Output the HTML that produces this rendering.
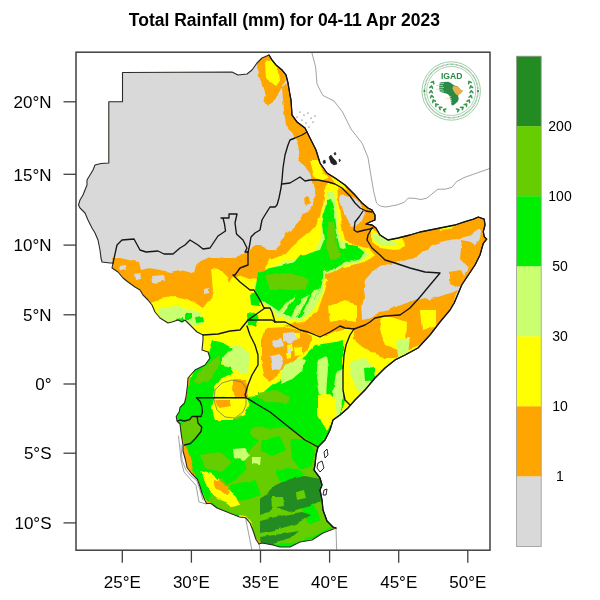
<!DOCTYPE html>
<html><head><meta charset="utf-8"><style>
html,body{margin:0;padding:0;background:#fff;width:600px;height:600px;overflow:hidden}
svg{display:block;will-change:transform}
.lab{font-family:"Liberation Sans",sans-serif;font-size:17px;fill:#000}
.cb{font-family:"Liberation Sans",sans-serif;font-size:14px;fill:#000}
.ttl{font-family:"Liberation Sans",sans-serif;font-size:17.5px;font-weight:bold;fill:#000}
</style></head><body>
<svg width="600" height="600" viewBox="0 0 600 600">
<rect width="600" height="600" fill="#fff"/>
<text x="284.4" y="25.8" text-anchor="middle" class="ttl">Total Rainfall (mm) for 04-11 Apr 2023</text>
<defs><filter id="rag" x="-5%" y="-5%" width="110%" height="110%"><feTurbulence type="fractalNoise" baseFrequency="0.09" numOctaves="2" seed="3"/><feDisplacementMap in="SourceGraphic" scale="4" xChannelSelector="R" yChannelSelector="G"/></filter><clipPath id="fr"><rect x="76" y="52.2" width="414" height="498"/></clipPath><clipPath id="land"><polygon points="122.5,72.5 232.0,72.0 238.0,75.0 247.0,74.0 252.0,70.0 257.0,63.0 262.0,58.0 269.0,55.0 272.0,60.0 276.0,65.0 282.0,70.0 286.0,75.0 288.0,83.0 290.0,95.0 291.0,100.0 292.0,115.0 297.0,122.0 305.0,128.0 311.0,140.0 316.0,150.0 320.0,163.0 327.0,173.0 335.0,178.0 345.0,185.0 355.0,195.0 362.0,203.0 368.0,208.0 372.0,210.0 375.0,215.0 375.0,220.0 370.0,222.0 366.0,224.0 372.0,225.0 376.0,228.0 380.0,235.0 388.0,240.0 398.0,238.0 410.0,235.0 420.0,232.0 430.0,230.0 440.0,228.0 455.0,225.0 465.0,221.7 473.3,219.2 478.3,217.0 484.2,219.2 485.0,225.0 483.3,231.7 484.2,236.7 486.7,239.2 483.3,243.3 480.0,255.0 475.0,265.0 468.3,275.0 461.7,285.0 458.3,293.3 454.2,303.0 450.0,310.0 440.0,322.0 430.0,335.0 418.0,348.0 405.0,355.0 395.0,360.0 385.0,368.0 375.0,378.0 365.0,390.0 355.0,400.0 348.0,408.0 340.0,415.0 333.0,420.0 330.0,430.0 325.0,440.0 318.0,447.0 316.0,455.0 315.0,465.0 314.0,470.0 320.0,478.0 322.0,485.0 320.0,490.0 322.0,500.0 323.0,510.0 327.0,521.0 333.0,527.0 336.0,528.0 323.0,533.0 312.0,540.0 300.0,542.0 290.0,547.0 280.0,547.0 273.0,545.0 262.0,543.0 259.0,544.0 256.0,539.5 253.0,530.5 250.0,523.0 245.5,517.7 239.5,517.0 232.0,514.0 224.5,511.0 217.0,508.0 211.0,503.5 206.5,503.5 205.0,500.5 202.0,493.0 199.7,485.5 197.5,479.5 191.5,473.5 187.0,467.5 185.5,460.0 183.0,451.0 183.0,445.0 181.5,436.0 180.7,430.0 180.0,424.0 177.0,421.0 176.2,416.5 179.2,412.0 180.0,407.5 184.5,403.0 186.0,397.0 187.5,385.0 188.0,378.0 195.0,370.0 205.0,365.0 210.0,358.0 208.0,352.0 202.0,350.0 203.0,340.0 203.0,335.0 197.0,332.0 190.0,325.0 185.0,320.0 182.0,322.0 178.0,320.0 172.0,322.0 168.0,323.0 160.0,318.0 155.0,312.0 152.0,305.0 148.0,300.0 143.0,295.0 140.0,290.0 135.0,287.0 128.0,282.0 123.0,278.0 118.0,272.0 112.0,268.0 113.0,263.0 110.0,263.0 102.0,262.0 101.0,258.0 100.0,250.0 98.0,240.0 95.0,233.0 92.0,228.0 88.0,220.0 85.0,213.0 80.0,208.0 78.5,205.0 80.0,200.0 83.0,195.0 85.0,190.0 87.0,185.0 87.0,180.0 90.0,175.0 93.0,170.0 95.0,165.0 101.0,163.5 108.8,163.0 108.8,101.8 122.5,101.8"/></clipPath></defs>
<g clip-path="url(#fr)">
<polygon points="122.5,72.5 232.0,72.0 238.0,75.0 247.0,74.0 252.0,70.0 257.0,63.0 262.0,58.0 269.0,55.0 272.0,60.0 276.0,65.0 282.0,70.0 286.0,75.0 288.0,83.0 290.0,95.0 291.0,100.0 292.0,115.0 297.0,122.0 305.0,128.0 311.0,140.0 316.0,150.0 320.0,163.0 327.0,173.0 335.0,178.0 345.0,185.0 355.0,195.0 362.0,203.0 368.0,208.0 372.0,210.0 375.0,215.0 375.0,220.0 370.0,222.0 366.0,224.0 372.0,225.0 376.0,228.0 380.0,235.0 388.0,240.0 398.0,238.0 410.0,235.0 420.0,232.0 430.0,230.0 440.0,228.0 455.0,225.0 465.0,221.7 473.3,219.2 478.3,217.0 484.2,219.2 485.0,225.0 483.3,231.7 484.2,236.7 486.7,239.2 483.3,243.3 480.0,255.0 475.0,265.0 468.3,275.0 461.7,285.0 458.3,293.3 454.2,303.0 450.0,310.0 440.0,322.0 430.0,335.0 418.0,348.0 405.0,355.0 395.0,360.0 385.0,368.0 375.0,378.0 365.0,390.0 355.0,400.0 348.0,408.0 340.0,415.0 333.0,420.0 330.0,430.0 325.0,440.0 318.0,447.0 316.0,455.0 315.0,465.0 314.0,470.0 320.0,478.0 322.0,485.0 320.0,490.0 322.0,500.0 323.0,510.0 327.0,521.0 333.0,527.0 336.0,528.0 323.0,533.0 312.0,540.0 300.0,542.0 290.0,547.0 280.0,547.0 273.0,545.0 262.0,543.0 259.0,544.0 256.0,539.5 253.0,530.5 250.0,523.0 245.5,517.7 239.5,517.0 232.0,514.0 224.5,511.0 217.0,508.0 211.0,503.5 206.5,503.5 205.0,500.5 202.0,493.0 199.7,485.5 197.5,479.5 191.5,473.5 187.0,467.5 185.5,460.0 183.0,451.0 183.0,445.0 181.5,436.0 180.7,430.0 180.0,424.0 177.0,421.0 176.2,416.5 179.2,412.0 180.0,407.5 184.5,403.0 186.0,397.0 187.5,385.0 188.0,378.0 195.0,370.0 205.0,365.0 210.0,358.0 208.0,352.0 202.0,350.0 203.0,340.0 203.0,335.0 197.0,332.0 190.0,325.0 185.0,320.0 182.0,322.0 178.0,320.0 172.0,322.0 168.0,323.0 160.0,318.0 155.0,312.0 152.0,305.0 148.0,300.0 143.0,295.0 140.0,290.0 135.0,287.0 128.0,282.0 123.0,278.0 118.0,272.0 112.0,268.0 113.0,263.0 110.0,263.0 102.0,262.0 101.0,258.0 100.0,250.0 98.0,240.0 95.0,233.0 92.0,228.0 88.0,220.0 85.0,213.0 80.0,208.0 78.5,205.0 80.0,200.0 83.0,195.0 85.0,190.0 87.0,185.0 87.0,180.0 90.0,175.0 93.0,170.0 95.0,165.0 101.0,163.5 108.8,163.0 108.8,101.8 122.5,101.8" fill="#FFA500" />
<g clip-path="url(#land)"><g filter="url(#rag)">
<polygon points="60.0,40.0 320.0,40.0 296.0,118.0 300.0,135.0 301.0,150.0 304.0,160.0 308.0,168.0 311.0,176.0 313.0,185.0 316.0,195.0 312.0,205.0 310.0,210.0 303.0,213.0 300.0,220.0 293.0,228.0 287.0,233.0 283.0,240.0 280.0,245.0 275.0,250.0 265.0,250.0 260.0,245.0 255.0,245.0 245.0,253.0 232.0,258.0 225.0,258.0 218.0,257.0 210.0,257.0 202.0,260.0 198.0,262.0 195.0,274.0 180.0,270.0 170.0,272.0 160.0,270.0 150.0,268.0 140.0,270.0 138.0,262.0 120.0,258.0 113.0,258.0 113.0,265.0 60.0,265.0" fill="#D9D9D9" />
<polygon points="340.0,196.0 349.0,195.0 356.0,199.0 362.0,206.0 365.0,212.0 362.0,220.0 357.0,226.0 352.0,228.0 347.0,220.0 343.0,210.0 340.0,200.0" fill="#D9D9D9" />
<polygon points="363.0,320.0 362.0,305.0 365.0,295.0 363.0,285.0 365.0,278.0 372.0,270.0 380.0,266.0 390.0,264.0 400.0,262.0 410.0,257.0 420.0,252.0 428.0,250.0 432.0,244.0 445.0,240.0 455.0,238.0 465.0,236.0 475.0,230.0 478.0,225.0 482.0,224.0 480.0,238.0 475.0,245.0 472.0,255.0 470.0,265.0 465.0,273.0 462.0,285.0 458.0,295.0 455.0,300.0 440.0,303.0 425.0,298.0 410.0,302.0 400.0,305.0 390.0,310.0 380.0,312.0 370.0,318.0" fill="#D9D9D9" />
<polygon points="257.0,63.0 262.0,57.0 269.0,54.0 276.0,64.0 283.0,72.0 286.0,80.0 282.0,88.0 278.0,95.0 272.0,102.0 268.0,106.0 264.0,100.0 265.0,92.0 262.0,82.0 258.0,76.0" fill="#FFA500" />
<polygon points="282.0,88.0 289.0,82.0 292.0,100.0 293.0,115.0 298.0,121.0 306.0,127.0 313.0,138.0 318.0,150.0 321.0,163.0 328.0,173.0 336.0,178.0 345.0,185.0 353.0,192.0 348.0,197.0 340.0,193.0 330.0,190.0 316.0,195.0 313.0,185.0 311.0,176.0 306.0,168.0 301.0,160.0 298.0,145.0 292.0,132.0 286.0,125.0 284.0,110.0" fill="#FFA500" />
<polygon points="299.0,152.0 305.0,152.0 308.0,160.0 303.0,164.0 299.0,160.0" fill="#FFA500" />
<polygon points="372.0,225.0 380.0,235.0 390.0,240.0 400.0,237.0 410.0,234.0 420.0,234.0 430.0,230.0 440.0,227.0 455.0,225.0 465.0,221.0 475.0,217.0 482.0,218.0 486.0,222.0 484.0,230.0 478.0,230.0 470.0,236.0 460.0,238.0 450.0,240.0 440.0,242.0 430.0,246.0 425.0,250.0 420.0,254.0 410.0,259.0 400.0,262.0 385.0,260.0 372.0,250.0" fill="#FFA500" />
<polygon points="140.0,330.0 145.0,305.0 152.0,303.0 165.0,297.0 175.0,296.0 185.0,298.0 195.0,303.0 202.0,307.0 210.0,302.0 213.0,290.0 211.0,268.0 217.5,268.7 221.0,271.0 226.8,278.0 229.0,284.0 232.7,276.8 240.8,275.7 249.0,279.0 258.0,278.0 263.0,271.0 270.0,260.0 280.0,256.0 285.0,255.0 292.0,247.0 300.0,240.0 310.0,232.0 316.0,225.0 320.0,215.0 323.0,205.0 325.0,190.0 328.0,183.0 337.0,185.0 338.0,200.0 340.0,215.0 342.0,228.0 345.0,240.0 355.0,245.0 368.0,248.0 375.0,255.0 372.0,262.0 362.0,262.0 350.0,268.0 340.0,275.0 330.0,280.0 325.0,290.0 318.0,310.0 303.0,322.0 280.0,325.0 260.0,330.0 240.0,340.0 200.0,350.0" fill="#FFFF00" />
<polygon points="265.0,62.0 272.0,60.0 278.0,68.0 280.0,80.0 276.0,85.0 272.0,82.0 266.0,78.0" fill="#FFFF00" />
<polygon points="310.0,160.0 318.0,160.0 323.0,172.0 328.0,178.0 322.0,182.0 314.0,176.0" fill="#FFFF00" />
<polygon points="330.0,176.0 345.0,184.0 348.0,190.0 338.0,188.0" fill="#FFFF00" />
<polygon points="372.0,228.0 380.0,235.0 390.0,240.0 402.0,238.0 405.0,245.0 395.0,250.0 380.0,248.0 372.0,242.0" fill="#FFFF00" />
<polygon points="440.0,227.0 455.0,225.0 450.0,230.0 440.0,231.0" fill="#FFFF00" />
<polygon points="190.0,340.0 250.0,322.0 275.0,322.0 300.0,330.0 320.0,337.0 345.0,328.0 354.0,329.0 365.0,325.0 375.0,320.0 385.0,318.0 400.0,318.0 410.0,312.0 420.0,305.0 430.0,302.0 440.0,300.0 448.0,298.0 452.0,305.0 440.0,322.0 430.0,335.0 418.0,348.0 405.0,355.0 395.0,360.0 385.0,368.0 375.0,378.0 365.0,390.0 355.0,400.0 345.0,412.0 320.0,430.0 250.0,420.0 190.0,400.0" fill="#FFFF00" />
<polygon points="306.0,265.0 330.0,262.0 345.0,268.0 355.0,264.0 365.0,262.0 372.0,258.0 380.0,250.0 385.0,262.0 372.0,272.0 365.0,280.0 363.0,295.0 362.0,310.0 363.0,323.0 355.0,325.0 345.0,322.0 340.0,323.0 330.0,330.0 320.0,335.0 305.0,333.0 300.0,325.0 312.0,318.0 318.0,310.0 323.0,300.0 325.0,290.0 328.0,280.0 315.0,275.0" fill="#FFA500" />
<polygon points="354.0,328.0 365.0,325.0 375.0,320.0 385.0,318.0 400.0,318.0 410.0,310.0 420.0,302.0 435.0,298.0 450.0,293.0 458.0,290.0 452.0,305.0 440.0,322.0 430.0,335.0 420.0,345.0 406.0,350.0 395.0,358.0 385.0,358.0 372.0,352.0 360.0,345.0 354.0,340.0" fill="#FFA500" />
<polygon points="266.0,328.0 285.0,327.0 300.0,330.0 312.0,336.0 308.0,350.0 297.0,358.0 287.0,366.0 277.0,376.0 268.0,382.0 264.0,375.0 261.0,360.0 261.0,342.0" fill="#FFA500" />
<polygon points="233.0,380.0 246.0,380.0 248.0,390.0 247.0,397.0 236.0,397.0 232.0,390.0" fill="#FFA500" />
<polygon points="182.0,447.0 186.0,445.0 190.0,458.0 193.0,470.0 197.0,478.0 200.0,490.0 203.0,500.0 199.0,500.0 194.0,485.0 188.0,474.0 184.0,462.0" fill="#FFA500" />
<polygon points="212.0,478.0 222.0,480.0 232.0,490.0 236.0,500.0 228.0,502.0 215.0,490.0" fill="#FFA500" />
<polygon points="328.0,307.0 345.0,300.0 357.0,307.0 357.0,322.0 340.0,320.0 330.0,322.0" fill="#FFFF00" />
<polygon points="382.0,316.0 395.0,318.0 406.0,322.0 405.0,340.0 398.0,350.0 385.0,345.0 380.0,330.0" fill="#FFFF00" />
<polygon points="420.0,310.0 436.0,310.0 436.0,325.0 422.0,330.0" fill="#FFFF00" />
<polygon points="160.0,308.0 175.0,306.0 200.0,312.0 205.0,322.0 195.0,326.0 170.0,324.0 158.0,316.0" fill="#CAFF70" />
<polygon points="327.0,192.0 334.0,192.0 336.0,205.0 338.0,225.0 341.0,240.0 352.0,246.0 365.0,249.0 369.0,255.0 360.0,261.0 345.0,265.0 335.0,271.0 326.0,275.0 322.0,295.0 312.0,312.0 300.0,321.0 287.0,321.0 270.0,309.0 257.0,299.0 254.0,285.0 262.0,271.0 280.0,264.0 292.0,260.0 305.0,256.0 317.0,250.0 321.0,232.0 323.0,212.0" fill="#CAFF70" />
<polygon points="373.0,232.0 380.0,235.0 392.0,241.0 398.0,243.0 395.0,246.0 382.0,246.0 374.0,240.0" fill="#CAFF70" />
<polygon points="396.0,340.0 410.0,338.0 408.0,352.0 398.0,356.0" fill="#CAFF70" />
<polygon points="220.0,349.0 240.0,345.0 250.0,352.0 247.0,373.0 231.0,370.0 222.0,362.0" fill="#CAFF70" />
<polygon points="352.0,360.0 365.0,358.0 376.0,372.0 372.0,392.0 358.0,392.0 350.0,375.0" fill="#CAFF70" />
<polygon points="326.0,200.0 331.0,199.0 333.0,206.0 335.0,215.0 336.0,225.0 338.0,240.0 340.0,247.0 350.0,250.0 360.0,248.0 365.0,252.0 360.0,258.0 345.0,262.0 335.0,268.0 328.0,272.0 322.0,268.0 315.0,262.0 305.0,260.0 298.0,262.0 292.0,265.0 288.0,270.0 300.0,255.0 314.0,252.0 320.0,250.0 324.0,240.0 322.0,225.0 324.0,212.0 326.0,205.0" fill="#00EE00" />
<polygon points="258.0,272.0 270.0,268.0 285.0,265.0 295.0,262.0 305.0,258.0 315.0,255.0 322.0,258.0 324.0,270.0 322.0,285.0 315.0,300.0 305.0,310.0 300.0,318.0 290.0,318.0 280.0,312.0 270.0,305.0 260.0,300.0 255.0,290.0" fill="#00EE00" />
<polygon points="345.0,244.0 358.0,246.0 360.0,255.0 348.0,257.0" fill="#00EE00" />
<polygon points="188.0,387.0 189.0,380.0 192.0,375.0 195.0,368.0 200.0,365.0 207.0,359.0 208.0,353.0 212.0,340.0 224.0,343.0 233.0,348.0 224.0,357.0 220.0,364.0 231.0,367.0 233.0,373.0 220.0,379.0 215.0,387.0 213.0,398.0 247.0,397.0 259.0,396.0 274.0,383.0 290.0,374.0 303.0,358.0 316.0,345.0 335.0,342.0 343.0,340.0 343.0,390.0 345.0,400.0 340.0,415.0 333.0,420.0 330.0,430.0 323.0,442.0 318.0,448.0 315.0,458.0 313.0,467.0 317.0,475.0 322.0,483.0 323.0,492.0 322.0,500.0 323.0,510.0 327.0,521.0 333.0,527.0 336.0,528.0 323.0,533.0 312.0,540.0 300.0,542.0 290.0,547.0 280.0,547.0 273.0,545.0 262.0,543.0 255.0,537.0 253.0,530.0 252.0,523.0 247.0,518.0 240.0,517.0 232.0,513.0 222.0,510.0 212.0,505.0 205.0,500.0 202.0,495.0 198.0,485.0 195.0,475.0 190.0,465.0 188.0,458.0 188.0,450.0 185.0,445.0 183.0,440.0 182.0,432.0 180.0,425.0 178.0,422.0 176.0,418.0 178.0,412.0 182.0,405.0 185.0,402.0 187.0,397.0" fill="#00EE00" />
<polygon points="265.0,275.0 285.0,272.0 300.0,276.0 310.0,280.0 305.0,290.0 290.0,290.0 270.0,290.0" fill="#66CD00" />
<polygon points="328.0,222.0 334.0,222.0 337.0,245.0 342.0,255.0 330.0,262.0 326.0,250.0" fill="#66CD00" />
<polygon points="193.0,383.0 198.0,372.0 210.0,362.0 220.0,355.0 218.0,368.0 212.0,378.0 200.0,385.0" fill="#66CD00" />
<polygon points="252.0,428.0 270.0,422.0 296.0,432.0 318.0,448.0 314.0,470.0 318.0,478.0 322.0,500.0 323.0,512.0 326.0,522.0 333.0,527.0 300.0,542.0 270.0,545.0 255.0,537.0 252.0,523.0 240.0,515.0 222.0,510.0 208.0,500.0 215.0,490.0 232.0,482.0 246.0,470.0 244.0,452.0" fill="#66CD00" />
<polygon points="193.0,422.0 208.0,418.0 214.0,432.0 204.0,442.0 194.0,436.0" fill="#66CD00" />
<polygon points="200.0,455.0 220.0,452.0 232.0,462.0 222.0,472.0 204.0,468.0" fill="#66CD00" />
<polygon points="228.0,404.0 244.0,402.0 250.0,414.0 236.0,420.0 226.0,414.0" fill="#66CD00" />
<polygon points="208.0,482.0 222.0,478.0 230.0,490.0 215.0,496.0" fill="#66CD00" />
<polygon points="185.0,400.0 213.0,398.0 218.0,420.0 210.0,440.0 195.0,455.0 185.0,445.0" fill="#00EE00" />
<polygon points="215.0,430.0 240.0,428.0 258.0,440.0 250.0,452.0 230.0,450.0 215.0,445.0" fill="#00EE00" />
<polygon points="240.0,400.0 255.0,402.0 275.0,412.0 290.0,425.0 270.0,430.0 250.0,425.0 240.0,415.0" fill="#00EE00" />
<polygon points="230.0,485.0 255.0,480.0 262.0,495.0 245.0,500.0 232.0,498.0" fill="#00EE00" />
<polygon points="275.0,470.0 290.0,468.0 305.0,474.0 295.0,482.0 280.0,482.0" fill="#00EE00" />
<polygon points="290.0,440.0 305.0,440.0 316.0,452.0 312.0,466.0 300.0,470.0 292.0,458.0" fill="#00EE00" />
<polygon points="300.0,505.0 315.0,505.0 320.0,520.0 310.0,525.0" fill="#00EE00" />
<polygon points="262.0,440.0 280.0,436.0 286.0,450.0 272.0,456.0 262.0,452.0" fill="#00EE00" />
<polygon points="233.0,448.0 245.0,447.0 250.0,455.0 244.0,461.0 234.0,458.0" fill="#CAFF70" />
<polygon points="252.0,457.0 260.0,457.0 259.0,465.0 252.0,464.0" fill="#CAFF70" />
<polygon points="284.0,366.0 298.0,358.0 306.0,360.0 302.0,370.0 290.0,380.0 280.0,384.0" fill="#CAFF70" />
<polygon points="318.0,360.0 326.0,356.0 328.0,368.0 326.0,396.0 319.0,394.0 316.0,378.0" fill="#CAFF70" />
<polygon points="336.0,372.0 343.0,368.0 343.0,395.0 339.0,416.0 333.0,426.0 331.0,408.0" fill="#CAFF70" />
<polygon points="318.0,395.0 330.0,393.0 336.0,400.0 335.0,420.0 326.0,430.0 318.0,415.0" fill="#FFFF00" />
<polygon points="184.0,421.0 192.0,417.0 198.0,418.0 201.0,427.0 201.0,431.5 195.0,439.0 190.0,443.5 184.0,445.0 181.0,436.0 180.0,426.0" fill="#66CD00" />
<polygon points="258.0,393.0 275.0,390.0 290.0,396.0 288.0,404.0 270.0,403.0 258.0,399.0" fill="#66CD00" />
<polygon points="176.0,318.0 184.0,317.0 184.0,322.0 177.0,323.0" fill="#00EE00" />
<polygon points="186.0,314.0 192.0,313.0 192.0,320.0 186.0,320.0" fill="#00EE00" />
<polygon points="196.0,318.0 202.0,317.0 203.0,322.0 197.0,323.0" fill="#00EE00" />
<polygon points="250.0,294.0 256.0,292.0 261.0,298.0 259.0,307.0 251.0,306.0" fill="#00EE00" />
<polygon points="247.0,315.0 255.0,312.0 260.0,318.0 256.0,326.0 248.0,324.0" fill="#00EE00" />
<polygon points="364.0,368.0 374.0,367.0 375.0,380.0 365.0,381.0" fill="#00EE00" />
<polygon points="287.0,345.0 293.0,344.0 294.0,350.0 288.0,351.0" fill="#FFFF00" />
<polygon points="295.0,348.0 302.0,347.0 302.0,355.0 296.0,356.0" fill="#FFFF00" />
<polygon points="286.0,353.0 292.0,353.0 292.0,358.0 287.0,359.0" fill="#FFFF00" />
<polygon points="293.0,333.0 300.0,333.0 300.0,338.0 294.0,339.0" fill="#FFFF00" />
<polygon points="290.0,300.0 296.0,296.0 280.0,318.0 274.0,316.0" fill="#CAFF70" />
<polygon points="303.0,298.0 309.0,295.0 297.0,318.0 291.0,318.0" fill="#CAFF70" />
<polygon points="314.0,290.0 320.0,289.0 309.0,312.0 303.0,312.0" fill="#CAFF70" />
<polygon points="134.0,274.0 140.0,273.0 141.0,279.0 135.0,280.0" fill="#D9D9D9" />
<polygon points="152.0,276.0 164.0,275.0 165.0,281.0 153.0,283.0" fill="#D9D9D9" />
<polygon points="203.0,289.0 208.0,288.0 208.0,293.0 203.0,294.0" fill="#D9D9D9" />
<polygon points="120.0,266.0 126.0,265.0 127.0,270.0 121.0,271.0" fill="#D9D9D9" />
<polygon points="273.0,340.0 281.0,338.0 284.0,345.0 276.0,349.0 271.0,346.0" fill="#D9D9D9" />
<polygon points="283.0,333.0 294.0,332.0 297.0,340.0 290.0,344.0 283.0,341.0" fill="#D9D9D9" />
<polygon points="271.0,356.0 280.0,354.0 283.0,362.0 280.0,371.0 273.0,370.0" fill="#D9D9D9" />
<polygon points="287.0,348.0 292.0,347.0 292.0,352.0 288.0,353.0" fill="#D9D9D9" />
<polygon points="304.0,197.0 309.0,196.0 310.0,204.0 305.0,206.0" fill="#FFA500" />
<polygon points="462.0,240.0 472.0,242.0 478.0,250.0 475.0,262.0 468.0,267.0 460.0,258.0" fill="#FFA500" />
<polygon points="450.0,272.0 460.0,270.0 465.0,280.0 458.0,288.0 450.0,284.0" fill="#FFA500" />
<polygon points="272.0,488.0 290.0,479.0 305.0,476.0 320.0,479.0 321.6,500.0 311.0,506.0 299.0,509.0 290.0,512.0 281.0,509.0 275.0,506.0 269.0,512.0 260.0,515.0 260.0,500.0" fill="#228B22" />
<polygon points="260.0,521.0 284.0,515.0 302.0,512.0 311.0,515.0 296.0,524.0 275.0,530.0 260.0,533.0" fill="#228B22" />
<polygon points="260.0,537.0 281.0,534.0 299.0,531.0 290.0,539.0 269.0,545.0 261.0,545.0" fill="#228B22" />
<polygon points="271.0,496.0 283.0,496.0 284.0,506.0 272.0,508.0" fill="#66CD00" />
<polygon points="296.0,492.0 304.0,490.0 306.0,498.0 297.0,500.0" fill="#66CD00" />
<polygon points="214.0,398.0 247.0,397.0 250.0,405.0 244.0,414.0 230.0,420.0 215.0,420.0 212.0,408.0" fill="#FFFF00" />
<polygon points="200.0,470.0 212.0,474.0 236.0,496.0 240.0,505.0 230.0,506.0 210.0,492.0" fill="#FFFF00" />
<polygon points="239.0,515.0 246.0,516.0 251.0,523.0 255.0,537.0 258.0,545.0 253.0,545.0 248.0,530.0 241.0,520.0" fill="#FFFF00" />
<polygon points="186.0,462.0 191.0,472.0 198.0,480.0 202.0,493.0 206.0,503.0 201.0,503.0 196.0,488.0 190.0,478.0 185.0,470.0" fill="#FFFF00" />
<polygon points="215.0,400.0 230.0,400.0 232.0,406.0 218.0,408.0" fill="#FFA500" />
<polygon points="214.0,480.0 222.0,482.0 230.0,492.0 226.0,496.0 216.0,488.0" fill="#FFA500" />
<polygon points="182.0,447.0 186.0,445.0 190.0,458.0 193.0,470.0 197.0,478.0 200.0,490.0 203.0,500.0 199.0,500.0 194.0,485.0 188.0,474.0 184.0,462.0" fill="#FFA500" />
</g></g>
<polyline points="311.9,52.8 315.6,67.0 317.0,84.0 322.7,95.3 334.0,101.0 342.5,112.0 351.0,129.0 362.3,143.5 368.0,157.6 370.8,174.6 373.7,191.6 376.5,203.0 380.0,206.0 385.6,207.0 396.8,205.0 404.3,202.3 408.0,198.2 413.6,198.2 421.0,199.5 426.7,198.2 437.9,189.2 445.3,189.2 451.9,187.3 456.5,181.7 464.0,177.6 473.3,174.3 492.0,167.7" fill="none" stroke="#8a8a8a" stroke-width="0.8" stroke-linejoin="round" stroke-linecap="round" />
<polyline points="336.0,528.0 336.7,552.0" fill="none" stroke="#8a8a8a" stroke-width="0.8" stroke-linejoin="round" stroke-linecap="round" />
<polyline points="178.5,436.0 180.0,450.0 181.0,460.0 184.0,472.0 196.0,485.5 199.0,502.0 206.5,504.0" fill="none" stroke="#8a8a8a" stroke-width="0.8" stroke-linejoin="round" stroke-linecap="round" />
<polyline points="181.0,445.0 182.0,460.0 186.0,470.0 191.0,476.0 197.0,481.0 200.0,490.0 203.0,500.0" fill="none" stroke="#8a8a8a" stroke-width="0.8" stroke-linejoin="round" stroke-linecap="round" />
<polyline points="245.5,517.7 251.5,548.0 252.0,552.0" fill="none" stroke="#8a8a8a" stroke-width="0.8" stroke-linejoin="round" stroke-linecap="round" />
<polyline points="259.0,544.0 260.5,552.0" fill="none" stroke="#8a8a8a" stroke-width="0.8" stroke-linejoin="round" stroke-linecap="round" />
<polyline points="246.0,397.0 246.0,388.0 242.0,382.0 232.0,380.0 222.0,383.0 215.0,390.0 214.0,400.0 217.0,410.0 225.0,417.0 235.0,418.0 243.0,412.0 246.0,405.0 246.0,397.0" fill="none" stroke="#666" stroke-width="0.7" stroke-linejoin="round" stroke-linecap="round" />
<polygon points="122.5,72.5 232.0,72.0 238.0,75.0 247.0,74.0 252.0,70.0 257.0,63.0 262.0,58.0 269.0,55.0 272.0,60.0 276.0,65.0 282.0,70.0 286.0,75.0 288.0,83.0 290.0,95.0 291.0,100.0 292.0,115.0 297.0,122.0 305.0,128.0 311.0,140.0 316.0,150.0 320.0,163.0 327.0,173.0 335.0,178.0 345.0,185.0 355.0,195.0 362.0,203.0 368.0,208.0 372.0,210.0 375.0,215.0 375.0,220.0 370.0,222.0 366.0,224.0 372.0,225.0 376.0,228.0 380.0,235.0 388.0,240.0 398.0,238.0 410.0,235.0 420.0,232.0 430.0,230.0 440.0,228.0 455.0,225.0 465.0,221.7 473.3,219.2 478.3,217.0 484.2,219.2 485.0,225.0 483.3,231.7 484.2,236.7 486.7,239.2 483.3,243.3 480.0,255.0 475.0,265.0 468.3,275.0 461.7,285.0 458.3,293.3 454.2,303.0 450.0,310.0 440.0,322.0 430.0,335.0 418.0,348.0 405.0,355.0 395.0,360.0 385.0,368.0 375.0,378.0 365.0,390.0 355.0,400.0 348.0,408.0 340.0,415.0 333.0,420.0 330.0,430.0 325.0,440.0 318.0,447.0 316.0,455.0 315.0,465.0 314.0,470.0 320.0,478.0 322.0,485.0 320.0,490.0 322.0,500.0 323.0,510.0 327.0,521.0 333.0,527.0 336.0,528.0 323.0,533.0 312.0,540.0 300.0,542.0 290.0,547.0 280.0,547.0 273.0,545.0 262.0,543.0 259.0,544.0 256.0,539.5 253.0,530.5 250.0,523.0 245.5,517.7 239.5,517.0 232.0,514.0 224.5,511.0 217.0,508.0 211.0,503.5 206.5,503.5 205.0,500.5 202.0,493.0 199.7,485.5 197.5,479.5 191.5,473.5 187.0,467.5 185.5,460.0 183.0,451.0 183.0,445.0 181.5,436.0 180.7,430.0 180.0,424.0 177.0,421.0 176.2,416.5 179.2,412.0 180.0,407.5 184.5,403.0 186.0,397.0 187.5,385.0 188.0,378.0 195.0,370.0 205.0,365.0 210.0,358.0 208.0,352.0 202.0,350.0 203.0,340.0 203.0,335.0 197.0,332.0 190.0,325.0 185.0,320.0 182.0,322.0 178.0,320.0 172.0,322.0 168.0,323.0 160.0,318.0 155.0,312.0 152.0,305.0 148.0,300.0 143.0,295.0 140.0,290.0 135.0,287.0 128.0,282.0 123.0,278.0 118.0,272.0 112.0,268.0 113.0,263.0 110.0,263.0 102.0,262.0 101.0,258.0 100.0,250.0 98.0,240.0 95.0,233.0 92.0,228.0 88.0,220.0 85.0,213.0 80.0,208.0 78.5,205.0 80.0,200.0 83.0,195.0 85.0,190.0 87.0,185.0 87.0,180.0 90.0,175.0 93.0,170.0 95.0,165.0 101.0,163.5 108.8,163.0 108.8,101.8 122.5,101.8" fill="none" stroke="#2a2a2a" stroke-width="1.1" stroke-linejoin="round"/>
<polyline points="269.0,55.0 272.0,60.0 276.0,65.0 282.0,70.0 286.0,75.0 288.0,83.0 290.0,95.0 291.0,100.0 292.0,115.0 297.0,122.0 305.0,128.0 311.0,140.0 316.0,150.0 320.0,163.0 327.0,173.0 335.0,178.0 345.0,185.0 355.0,195.0 362.0,203.0 368.0,208.0 372.0,210.0 375.0,215.0 375.0,220.0 370.0,222.0 366.0,224.0 372.0,225.0 376.0,228.0 380.0,235.0 388.0,240.0 398.0,238.0 410.0,235.0 420.0,232.0 430.0,230.0 440.0,228.0 455.0,225.0 465.0,221.7 473.3,219.2 478.3,217.0 484.2,219.2 485.0,225.0 483.3,231.7 484.2,236.7 486.7,239.2 483.3,243.3 480.0,255.0 475.0,265.0 468.3,275.0 461.7,285.0 458.3,293.3 454.2,303.0 450.0,310.0 440.0,322.0 430.0,335.0 418.0,348.0 405.0,355.0 395.0,360.0 385.0,368.0 375.0,378.0 365.0,390.0 355.0,400.0 348.0,408.0 340.0,415.0 333.0,420.0 330.0,430.0 325.0,440.0 318.0,447.0 316.0,455.0 315.0,465.0 314.0,470.0 320.0,478.0 322.0,485.0 320.0,490.0 322.0,500.0 323.0,510.0 327.0,521.0 333.0,527.0 336.0,528.0" fill="none" stroke="#151515" stroke-width="1.3" stroke-linejoin="round" stroke-linecap="round" />
<polyline points="113.0,263.0 117.0,245.0 122.0,240.0 134.0,239.0 140.0,250.0 146.0,252.0 158.0,251.0 164.0,254.0 173.0,254.0 180.0,248.0 185.0,245.0 190.0,240.0 198.0,245.0 203.0,249.0 210.0,248.0 218.0,236.0 225.5,231.0 224.5,224.0 223.0,218.0 221.0,218.0 229.0,218.0 229.0,214.0 237.0,214.0 235.0,223.0 236.5,234.0 243.0,240.0 247.0,248.0 245.0,252.0 248.0,252.0" fill="none" stroke="#151515" stroke-width="1.35" stroke-linejoin="round" stroke-linecap="round" />
<polyline points="248.0,252.0 249.0,248.0 250.0,243.0 251.0,237.0 255.0,233.0 260.0,230.0 262.0,220.0 265.0,215.0 270.0,207.0 275.0,207.0 277.0,205.0 279.0,198.0 281.0,188.0 282.0,180.0 283.0,168.0 285.0,155.0 288.0,145.0 290.0,140.0 295.0,138.0 302.0,135.0 307.0,132.0" fill="none" stroke="#151515" stroke-width="1.35" stroke-linejoin="round" stroke-linecap="round" />
<polyline points="248.0,252.0 248.0,265.0 240.0,268.0 235.0,275.0 233.0,275.0 240.0,282.0 250.0,290.0 254.0,290.0 260.0,300.0 264.0,308.0 270.0,308.0 272.0,312.0 275.0,322.0" fill="none" stroke="#151515" stroke-width="1.35" stroke-linejoin="round" stroke-linecap="round" />
<polyline points="275.0,322.0 272.0,320.0 248.0,320.0 240.0,330.0 230.0,331.0 218.0,334.0 203.0,335.0" fill="none" stroke="#151515" stroke-width="1.35" stroke-linejoin="round" stroke-linecap="round" />
<polyline points="265.0,308.0 248.0,320.0" fill="none" stroke="#151515" stroke-width="1.35" stroke-linejoin="round" stroke-linecap="round" />
<polyline points="275.0,322.0 285.0,322.0 300.0,330.0 308.0,332.0 320.0,337.0 330.0,332.0 340.0,326.0 345.0,328.0 354.0,329.0" fill="none" stroke="#151515" stroke-width="1.35" stroke-linejoin="round" stroke-linecap="round" />
<polyline points="354.0,329.0 350.0,335.0 346.0,345.0 344.0,355.0 343.0,370.0 343.0,390.0 345.0,400.0 350.0,405.0" fill="none" stroke="#151515" stroke-width="1.35" stroke-linejoin="round" stroke-linecap="round" />
<polyline points="247.0,326.0 250.0,335.0 255.0,345.0 258.0,355.0 258.0,365.0 252.0,375.0 248.0,385.0 245.0,395.0 246.0,397.0" fill="none" stroke="#151515" stroke-width="1.35" stroke-linejoin="round" stroke-linecap="round" />
<polyline points="196.5,397.7 246.0,397.7 270.0,412.0 290.0,428.0 305.0,440.0 318.0,447.0" fill="none" stroke="#151515" stroke-width="1.35" stroke-linejoin="round" stroke-linecap="round" />
<polyline points="282.0,184.0 290.0,183.0 295.0,180.0 300.0,177.0 305.0,181.0 310.0,180.0 318.0,180.0 328.0,182.0 335.0,184.0 342.0,188.0 350.0,196.0 355.0,203.0 360.0,208.0 366.0,211.0 372.0,212.0" fill="none" stroke="#151515" stroke-width="1.35" stroke-linejoin="round" stroke-linecap="round" />
<polyline points="363.0,211.0 359.0,217.0 355.0,222.0 354.0,230.0 357.0,232.0 365.0,230.0 370.0,229.0 373.0,228.0" fill="none" stroke="#151515" stroke-width="1.35" stroke-linejoin="round" stroke-linecap="round" />
<polyline points="372.0,228.0 368.0,235.0 367.0,240.0 372.0,248.0 380.0,255.0 385.0,260.0 395.0,263.0 410.0,268.0 425.0,272.0 440.0,273.0 430.0,285.0 420.0,297.0 410.0,308.0 400.0,315.0 385.0,316.0 375.0,318.0 370.0,322.0 365.0,325.0 354.0,329.0" fill="none" stroke="#151515" stroke-width="1.35" stroke-linejoin="round" stroke-linecap="round" />
<polyline points="196.5,398.0 200.2,401.5 201.7,406.0 202.5,412.0 201.0,416.5 196.5,416.5 192.0,416.5 189.7,419.5 184.5,421.0 180.0,420.0 177.7,421.0" fill="none" stroke="#151515" stroke-width="1.35" stroke-linejoin="round" stroke-linecap="round" />
<polyline points="197.2,417.0 198.0,423.0 201.7,427.0 201.0,431.5 195.0,439.0 190.5,443.5 184.5,445.0" fill="none" stroke="#151515" stroke-width="1.35" stroke-linejoin="round" stroke-linecap="round" />
<polygon points="324.0,452.0 327.0,449.0 328.0,455.0 325.0,458.0" fill="none" stroke="#111" stroke-width="0.9"/>
<polygon points="318.0,463.0 322.0,461.0 324.0,468.0 320.0,472.0 317.0,468.0" fill="none" stroke="#111" stroke-width="0.9"/>
<polygon points="324.0,490.0 327.0,489.0 326.0,495.0 323.0,495.0" fill="none" stroke="#111" stroke-width="0.9"/>
<polygon points="329.0,157.0 331.0,155.0 333.0,158.0 336.0,161.0 337.0,164.0 334.0,165.0 331.0,163.0" fill="#222" stroke="#222" stroke-width="0.6"/>
<polygon points="323.0,161.0 325.0,160.0 325.5,163.0 323.5,163.5" fill="#222" stroke="#222" stroke-width="0.6"/>
<polygon points="334.0,153.0 335.5,152.5 336.0,154.5 334.5,155.0" fill="#222" stroke="#222" stroke-width="0.6"/>
<polygon points="339.0,159.0 340.5,160.0 339.5,162.0" fill="#222" stroke="#222" stroke-width="0.6"/>
<circle cx="300" cy="112" r="0.6" fill="#333"/>
<circle cx="304" cy="115" r="0.6" fill="#333"/>
<circle cx="308" cy="113" r="0.6" fill="#333"/>
<circle cx="311" cy="118" r="0.6" fill="#333"/>
<circle cx="302" cy="120" r="0.6" fill="#333"/>
<circle cx="306" cy="123" r="0.6" fill="#333"/>
<circle cx="313" cy="122" r="0.6" fill="#333"/>
<circle cx="297" cy="117" r="0.6" fill="#333"/>
<circle cx="309" cy="127" r="0.6" fill="#333"/>
<circle cx="315" cy="116" r="0.6" fill="#333"/>
</g>
<rect x="76" y="52.2" width="414" height="498" fill="none" stroke="#404040" stroke-width="1.5"/>
<line x1="63.5" y1="101.8" x2="76" y2="101.8" stroke="#404040" stroke-width="1.3"/>
<text x="51.5" y="108.0" text-anchor="end" class="lab">20°N</text>
<line x1="63.5" y1="174.3" x2="76" y2="174.3" stroke="#404040" stroke-width="1.3"/>
<text x="51.5" y="180.5" text-anchor="end" class="lab">15°N</text>
<line x1="63.5" y1="245.1" x2="76" y2="245.1" stroke="#404040" stroke-width="1.3"/>
<text x="51.5" y="251.3" text-anchor="end" class="lab">10°N</text>
<line x1="63.5" y1="314.8" x2="76" y2="314.8" stroke="#404040" stroke-width="1.3"/>
<text x="51.5" y="321.0" text-anchor="end" class="lab">5°N</text>
<line x1="63.5" y1="384.0" x2="76" y2="384.0" stroke="#404040" stroke-width="1.3"/>
<text x="51.5" y="390.2" text-anchor="end" class="lab">0°</text>
<line x1="63.5" y1="453.2" x2="76" y2="453.2" stroke="#404040" stroke-width="1.3"/>
<text x="51.5" y="459.4" text-anchor="end" class="lab">5°S</text>
<line x1="63.5" y1="522.9" x2="76" y2="522.9" stroke="#404040" stroke-width="1.3"/>
<text x="51.5" y="529.1" text-anchor="end" class="lab">10°S</text>
<line x1="122.3" y1="550.2" x2="122.3" y2="562.7" stroke="#404040" stroke-width="1.3"/>
<text x="122.3" y="587.5" text-anchor="middle" class="lab">25°E</text>
<line x1="191.4" y1="550.2" x2="191.4" y2="562.7" stroke="#404040" stroke-width="1.3"/>
<text x="191.4" y="587.5" text-anchor="middle" class="lab">30°E</text>
<line x1="260.5" y1="550.2" x2="260.5" y2="562.7" stroke="#404040" stroke-width="1.3"/>
<text x="260.5" y="587.5" text-anchor="middle" class="lab">35°E</text>
<line x1="329.6" y1="550.2" x2="329.6" y2="562.7" stroke="#404040" stroke-width="1.3"/>
<text x="329.6" y="587.5" text-anchor="middle" class="lab">40°E</text>
<line x1="398.7" y1="550.2" x2="398.7" y2="562.7" stroke="#404040" stroke-width="1.3"/>
<text x="398.7" y="587.5" text-anchor="middle" class="lab">45°E</text>
<line x1="467.8" y1="550.2" x2="467.8" y2="562.7" stroke="#404040" stroke-width="1.3"/>
<text x="467.8" y="587.5" text-anchor="middle" class="lab">50°E</text>
<rect x="516.5" y="56.20" width="24.7" height="70.34" fill="#228B22"/>
<rect x="516.5" y="126.24" width="24.7" height="70.34" fill="#66CD00"/>
<rect x="516.5" y="196.28" width="24.7" height="70.34" fill="#00EE00"/>
<rect x="516.5" y="266.32" width="24.7" height="70.34" fill="#CAFF70"/>
<rect x="516.5" y="336.36" width="24.7" height="70.34" fill="#FFFF00"/>
<rect x="516.5" y="406.40" width="24.7" height="70.34" fill="#FFA500"/>
<rect x="516.5" y="476.44" width="24.7" height="70.34" fill="#D9D9D9"/>
<rect x="516.5" y="56.2" width="24.7" height="490.28" fill="none" stroke="#9a9a9a" stroke-width="0.8"/>
<text x="560" y="131.2" text-anchor="middle" class="cb">200</text>
<text x="560" y="201.3" text-anchor="middle" class="cb">100</text>
<text x="560" y="271.3" text-anchor="middle" class="cb">50</text>
<text x="560" y="341.4" text-anchor="middle" class="cb">30</text>
<text x="560" y="411.4" text-anchor="middle" class="cb">10</text>
<text x="560" y="481.4" text-anchor="middle" class="cb">1</text>
<g>
<circle cx="451.2" cy="91.0" r="29.2" fill="#fff" stroke="#86bf90" stroke-width="0.8"/>
<circle cx="451.2" cy="91.0" r="26.7" fill="none" stroke="#4e9a60" stroke-width="1.5" stroke-dasharray="0.8 0.5" opacity="0.75"/>
<circle cx="451.2" cy="91.0" r="24.5" fill="none" stroke="#86bf90" stroke-width="0.7"/>
<circle cx="424.4" cy="91.0" r="1.0" fill="#2e8b45"/>
<circle cx="478.0" cy="91.0" r="1.0" fill="#2e8b45"/>
<text x="451.7" y="78.9" text-anchor="middle" style="font-family:'Liberation Sans',sans-serif;font-weight:bold;font-size:8.6px;fill:#2a8a44">IGAD</text>
<polygon points="439.8,82.6 444.0,81.9 448.2,81.7 451.0,83.0 453.1,84.7 455.2,85.8 457.6,86.5 459.4,88.2 460.8,90.0 462.9,90.3 461.8,92.1 460.1,93.8 458.0,95.6 458.7,98.4 458.0,101.2 455.9,103.3 453.8,105.0 451.7,105.4 451.0,102.6 450.3,98.4 448.9,94.9 446.8,93.8 443.3,92.8 439.8,91.7 439.1,87.9 439.4,84.4" fill="#2b8a45"/>
<polygon points="453.1,86.1 457.6,86.5 459.4,88.2 460.8,90.0 462.9,90.3 461.8,92.1 460.1,93.8 458.0,95.6 455.9,94.2 453.8,91.4 452.4,88.6" fill="#e9b04e"/>
<line x1="437" y1="83.6" x2="444" y2="83.6" stroke="#fff" stroke-width="0.55"/>
<line x1="436" y1="85.5" x2="443" y2="85.5" stroke="#fff" stroke-width="0.55"/>
<line x1="436" y1="87.4" x2="444" y2="87.4" stroke="#fff" stroke-width="0.55"/>
<line x1="436" y1="89.3" x2="443" y2="89.3" stroke="#fff" stroke-width="0.55"/>
<line x1="437" y1="91.1" x2="444" y2="91.1" stroke="#fff" stroke-width="0.55"/>
<line x1="446" y1="96.5" x2="451" y2="96.5" stroke="#fff" stroke-width="0.55"/>
<line x1="446" y1="98.4" x2="451.5" y2="98.4" stroke="#fff" stroke-width="0.55"/>
<line x1="447" y1="100.3" x2="452" y2="100.3" stroke="#fff" stroke-width="0.55"/>
<line x1="447" y1="102.2" x2="452" y2="102.2" stroke="#fff" stroke-width="0.55"/>
<line x1="436" y1="85.5" x2="439.5" y2="85.5" stroke="#f0cf8e" stroke-width="0.7"/>
<line x1="436" y1="89.3" x2="439.5" y2="89.3" stroke="#f0cf8e" stroke-width="0.7"/>
<line x1="446" y1="98.4" x2="449.5" y2="98.4" stroke="#f0cf8e" stroke-width="0.7"/>
<ellipse cx="433.36" cy="81.52" rx="0.85" ry="2.1" fill="#3a9850" transform="rotate(170.0 433.36 81.52) translate(0 -1.20)"/>
<ellipse cx="433.36" cy="81.52" rx="0.85" ry="2.1" fill="#3a9850" transform="rotate(246.0 433.36 81.52) translate(0 -1.20)"/>
<ellipse cx="431.62" cy="86.02" rx="0.85" ry="2.1" fill="#3a9850" transform="rotate(156.3 431.62 86.02) translate(0 -1.20)"/>
<ellipse cx="431.62" cy="86.02" rx="0.85" ry="2.1" fill="#3a9850" transform="rotate(232.3 431.62 86.02) translate(0 -1.20)"/>
<ellipse cx="431.00" cy="90.80" rx="0.85" ry="2.1" fill="#3a9850" transform="rotate(142.6 431.00 90.80) translate(0 -1.20)"/>
<ellipse cx="431.00" cy="90.80" rx="0.85" ry="2.1" fill="#3a9850" transform="rotate(218.6 431.00 90.80) translate(0 -1.20)"/>
<ellipse cx="431.53" cy="95.59" rx="0.85" ry="2.1" fill="#3a9850" transform="rotate(128.9 431.53 95.59) translate(0 -1.20)"/>
<ellipse cx="431.53" cy="95.59" rx="0.85" ry="2.1" fill="#3a9850" transform="rotate(204.9 431.53 95.59) translate(0 -1.20)"/>
<ellipse cx="433.18" cy="100.13" rx="0.85" ry="2.1" fill="#3a9850" transform="rotate(115.1 433.18 100.13) translate(0 -1.20)"/>
<ellipse cx="433.18" cy="100.13" rx="0.85" ry="2.1" fill="#3a9850" transform="rotate(191.1 433.18 100.13) translate(0 -1.20)"/>
<ellipse cx="435.86" cy="104.14" rx="0.85" ry="2.1" fill="#3a9850" transform="rotate(101.4 435.86 104.14) translate(0 -1.20)"/>
<ellipse cx="435.86" cy="104.14" rx="0.85" ry="2.1" fill="#3a9850" transform="rotate(177.4 435.86 104.14) translate(0 -1.20)"/>
<ellipse cx="439.41" cy="107.40" rx="0.85" ry="2.1" fill="#3a9850" transform="rotate(87.7 439.41 107.40) translate(0 -1.20)"/>
<ellipse cx="439.41" cy="107.40" rx="0.85" ry="2.1" fill="#3a9850" transform="rotate(163.7 439.41 107.40) translate(0 -1.20)"/>
<ellipse cx="443.63" cy="109.73" rx="0.85" ry="2.1" fill="#3a9850" transform="rotate(74.0 443.63 109.73) translate(0 -1.20)"/>
<ellipse cx="443.63" cy="109.73" rx="0.85" ry="2.1" fill="#3a9850" transform="rotate(150.0 443.63 109.73) translate(0 -1.20)"/>
<ellipse cx="469.04" cy="81.52" rx="0.85" ry="2.1" fill="#3a9850" transform="rotate(-66.0 469.04 81.52) translate(0 1.20)"/>
<ellipse cx="469.04" cy="81.52" rx="0.85" ry="2.1" fill="#3a9850" transform="rotate(10.0 469.04 81.52) translate(0 1.20)"/>
<ellipse cx="470.78" cy="86.02" rx="0.85" ry="2.1" fill="#3a9850" transform="rotate(-52.3 470.78 86.02) translate(0 1.20)"/>
<ellipse cx="470.78" cy="86.02" rx="0.85" ry="2.1" fill="#3a9850" transform="rotate(23.7 470.78 86.02) translate(0 1.20)"/>
<ellipse cx="471.40" cy="90.80" rx="0.85" ry="2.1" fill="#3a9850" transform="rotate(-38.6 471.40 90.80) translate(0 1.20)"/>
<ellipse cx="471.40" cy="90.80" rx="0.85" ry="2.1" fill="#3a9850" transform="rotate(37.4 471.40 90.80) translate(0 1.20)"/>
<ellipse cx="470.87" cy="95.59" rx="0.85" ry="2.1" fill="#3a9850" transform="rotate(-24.9 470.87 95.59) translate(0 1.20)"/>
<ellipse cx="470.87" cy="95.59" rx="0.85" ry="2.1" fill="#3a9850" transform="rotate(51.1 470.87 95.59) translate(0 1.20)"/>
<ellipse cx="469.22" cy="100.13" rx="0.85" ry="2.1" fill="#3a9850" transform="rotate(-11.1 469.22 100.13) translate(0 1.20)"/>
<ellipse cx="469.22" cy="100.13" rx="0.85" ry="2.1" fill="#3a9850" transform="rotate(64.9 469.22 100.13) translate(0 1.20)"/>
<ellipse cx="466.54" cy="104.14" rx="0.85" ry="2.1" fill="#3a9850" transform="rotate(2.6 466.54 104.14) translate(0 1.20)"/>
<ellipse cx="466.54" cy="104.14" rx="0.85" ry="2.1" fill="#3a9850" transform="rotate(78.6 466.54 104.14) translate(0 1.20)"/>
<ellipse cx="462.99" cy="107.40" rx="0.85" ry="2.1" fill="#3a9850" transform="rotate(16.3 462.99 107.40) translate(0 1.20)"/>
<ellipse cx="462.99" cy="107.40" rx="0.85" ry="2.1" fill="#3a9850" transform="rotate(92.3 462.99 107.40) translate(0 1.20)"/>
<ellipse cx="458.77" cy="109.73" rx="0.85" ry="2.1" fill="#3a9850" transform="rotate(30.0 458.77 109.73) translate(0 1.20)"/>
<ellipse cx="458.77" cy="109.73" rx="0.85" ry="2.1" fill="#3a9850" transform="rotate(106.0 458.77 109.73) translate(0 1.20)"/>
</g>
</svg></body></html>
